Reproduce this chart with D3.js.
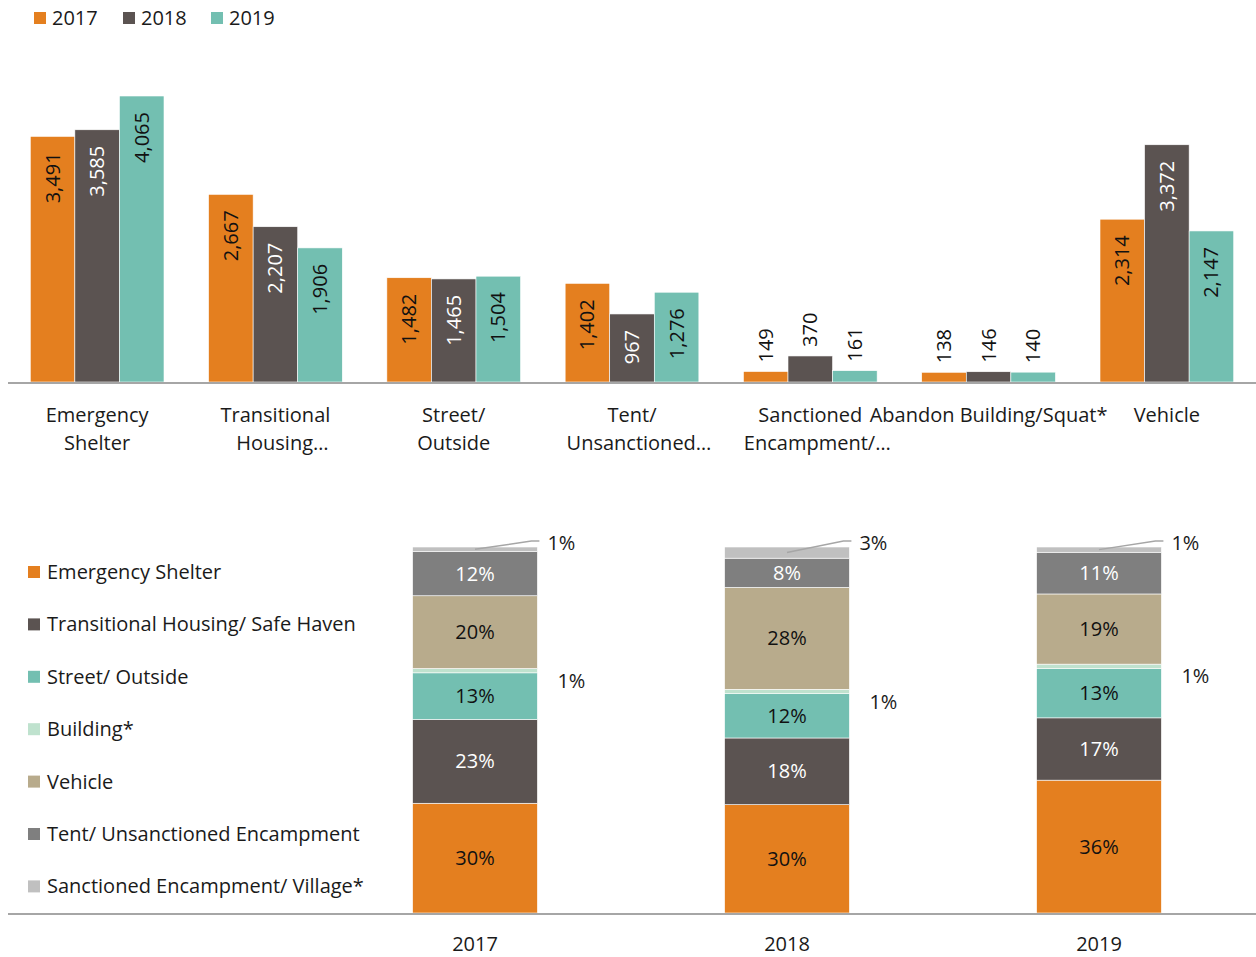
<!DOCTYPE html>
<html>
<head>
<meta charset="utf-8">
<script src="https://cdn.jsdelivr.net/npm/d3@7"></script>
<style>
  body { margin: 0; background: #fff; }
  svg text { font-family: "Open Sans", "Noto Sans", sans-serif; fill: #1a1a1a; }
</style>
</head>
<body>
<div id="chart"></div>
<script>
// values
const years = ['2017', '2018', '2019']
const categories = ['Emergency Shelter', 'Transitional Housing', 'Street/ Outside', 'Tent/ Unsanctioned',
  'Sanctioned Encampment', 'Abandon Building/Squat*', 'Vehicle']
const tickLines = [['Emergency', 'Shelter'], ['Transitional', 'Housing…'], ['Street/', 'Outside'],
  ['Tent/', 'Unsanctioned…'], ['Sanctioned', 'Encampment/…'], ['Abandon Building/Squat*'], ['Vehicle']]
const counts2017 = [3491, 2667, 1482, 1402, 149, 138, 2314]
const counts2018 = [3585, 2207, 1465, 967, 370, 146, 3372]
const counts2019 = [4065, 1906, 1504, 1276, 161, 140, 2147]
const yearColors = ['#E47F1F', '#5B5351', '#73BFB1']
const yearLabelColors = ['#111', '#fff', '#111']

// stacked chart: bottom -> top, mapped onto the categories above
const stackKeys = ['Emergency Shelter', 'Transitional Housing', 'Street/ Outside', 'Abandon Building/Squat*',
  'Vehicle', 'Tent/ Unsanctioned', 'Sanctioned Encampment']
const stackNames = ['Emergency Shelter', 'Transitional Housing/ Safe Haven', 'Street/ Outside', 'Building*',
  'Vehicle', 'Tent/ Unsanctioned Encampment', 'Sanctioned Encampment/ Village*']
const stackColors = ['#E47F1F', '#5B5351', '#73BFB1', '#BFE2CE', '#B8AB8C', '#7F7F7F', '#C0C0C0']
const stackLabelColors = ['#111', '#fff', '#111', '#111', '#111', '#fff', '#111']

const width = 1256
const height = 957
const axisColor = '#A6A6A6'

const svg = d3.select('#chart')
  .append('svg')
  .attr('width', width)
  .attr('height', height)

const allCounts = [counts2017, counts2018, counts2019]

// ---------- top: grouped bars ----------
const x0 = d3.scaleBand().domain(categories).range([8, 1256]).paddingInner(0.25).paddingOuter(0.125)
const x1 = d3.scaleBand().domain(years).range([0, x0.bandwidth()])
const y = d3.scaleLinear().domain([0, 4500]).range([382, 65.4])
const isInside = v => y(0) - y(v) > 50

const groupData = categories.map((c, i) => ({
  cat: c,
  values: years.map((yr, j) => ({ year: yr, j, value: allCounts[j][i] })),
}))

const groups = svg.append('g')
  .selectAll('g')
  .data(groupData)
  .join('g')
  .attr('transform', d => `translate(${x0(d.cat)},0)`)

groups.selectAll('rect')
  .data(d => d.values)
  .join('rect')
  .attr('x', d => x1(d.year))
  .attr('y', d => y(d.value))
  .attr('width', x1.bandwidth())
  .attr('height', d => y(0) - y(d.value))
  .attr('fill', d => yearColors[d.j])
  .attr('stroke', '#fff')
  .attr('stroke-width', 0.6)

const fmt = d3.format(',')
groups.selectAll('text.val')
  .data(d => d.values)
  .join('text')
  .attr('class', 'val')
  .attr('transform', d => {
    const cx = x1(d.year) + x1.bandwidth() / 2
    const ty = isInside(d.value) ? y(d.value) + 16 : y(d.value) - 9
    return `translate(${cx},${ty}) rotate(-90)`
  })
  .attr('text-anchor', d => (isInside(d.value) ? 'end' : 'start'))
  .attr('dy', '0.35em')
  .style('font-size', '20px')
  .style('fill', d => (isInside(d.value) ? yearLabelColors[d.j] : '#111'))
  .text(d => fmt(d.value))

svg.append('line')
  .attr('x1', 8).attr('x2', 1256)
  .attr('y1', y(0) + 1).attr('y2', y(0) + 1)
  .attr('stroke', axisColor).attr('stroke-width', 2)

const ticks = svg.append('g')
  .selectAll('text')
  .data(categories)
  .join('text')
  .attr('x', d => x0(d) + x0.bandwidth() / 2)
  .attr('y', 415)
  .attr('text-anchor', 'middle')
  .style('font-size', '20px')
ticks.selectAll('tspan')
  .data((d, i) => tickLines[i])
  .join('tspan')
  .attr('x', function () { return +this.parentNode.getAttribute('x') })
  .attr('dx', d => (d.endsWith('…') ? 7 : 0)) // truncated labels sit a little right
  .attr('dy', (d, i) => (i === 0 ? '0.35em' : '28px'))
  .text(d => d)

// top legend
const legTop = svg.append('g')
  .selectAll('g')
  .data(years)
  .join('g')
  .attr('transform', (d, i) => `translate(${[34, 123, 211][i]},18)`)
legTop.append('rect')
  .attr('x', 0).attr('y', -6).attr('width', 12).attr('height', 12)
  .attr('fill', (d, i) => yearColors[i])
legTop.append('text')
  .attr('x', 18).attr('dy', '0.35em')
  .style('font-size', '20px')
  .text(d => d)

// ---------- bottom: 100% stacked bars ----------
const stackRows = years.map((yr, j) => {
  const row = { year: yr }
  categories.forEach((c, i) => { row[c] = allCounts[j][i] })
  return row
})
const series = d3.stack().keys(stackKeys).offset(d3.stackOffsetExpand)(stackRows)

const xs = d3.scaleBand().domain(years).range([319, 1255]).paddingInner(0.6).paddingOuter(0.3)
const ys = d3.scaleLinear().domain([0, 1]).range([913, 547])
const pct = d3.format('.0%')

const layers = svg.append('g')
  .selectAll('g')
  .data(series)
  .join('g')
  .attr('fill', (d, i) => stackColors[i])

layers.selectAll('rect')
  .data(d => d)
  .join('rect')
  .attr('x', d => xs(d.data.year))
  .attr('y', d => ys(d[1]))
  .attr('width', xs.bandwidth())
  .attr('height', d => ys(d[0]) - ys(d[1]))
  .attr('stroke', '#fff')
  .attr('stroke-width', 0.6)

series.forEach((s, i) => {
  s.forEach(d => {
    const share = d[1] - d[0]
    const left = xs(d.data.year)
    const cx = left + xs.bandwidth() / 2
    const right = left + xs.bandwidth()
    const mid = (ys(d[0]) + ys(d[1])) / 2
    if (share >= 0.05) {
      svg.append('text')
        .attr('x', cx).attr('y', mid).attr('dy', '0.35em')
        .attr('text-anchor', 'middle')
        .style('font-size', '20px')
        .style('fill', stackLabelColors[i])
        .text(pct(share))
    } else if (s.key === 'Sanctioned Encampment') {
      const ly = ys(d[1]) - 4
      svg.append('polyline')
        .attr('points', [[cx, mid], [right - 6, ly - 2], [right + 2, ly - 2]].join(' '))
        .attr('fill', 'none').attr('stroke', '#A6A6A6').attr('stroke-width', 1.5)
      svg.append('text')
        .attr('x', right + 10).attr('y', ly).attr('dy', '0.35em')
        .style('font-size', '20px')
        .text(pct(share))
    } else {
      svg.append('text')
        .attr('x', right + 20).attr('y', mid + 10).attr('dy', '0.35em')
        .style('font-size', '20px')
        .text(pct(share))
    }
  })
})

svg.append('line')
  .attr('x1', 8).attr('x2', 1256)
  .attr('y1', ys(0) + 1).attr('y2', ys(0) + 1)
  .attr('stroke', axisColor).attr('stroke-width', 2)

svg.append('g')
  .selectAll('text')
  .data(years)
  .join('text')
  .attr('x', d => xs(d) + xs.bandwidth() / 2)
  .attr('y', 944).attr('dy', '0.35em')
  .attr('text-anchor', 'middle')
  .style('font-size', '20px')
  .text(d => d)

// bottom legend
const legBottom = svg.append('g')
  .selectAll('g')
  .data(stackNames)
  .join('g')
  .attr('transform', (d, i) => `translate(28,${572 + i * 52.4})`)
legBottom.append('rect')
  .attr('x', 0).attr('y', -6).attr('width', 12).attr('height', 12)
  .attr('fill', (d, i) => stackColors[i])
legBottom.append('text')
  .attr('x', 19).attr('dy', '0.35em')
  .style('font-size', '20px')
  .text(d => d)
</script>
</body>
</html>
